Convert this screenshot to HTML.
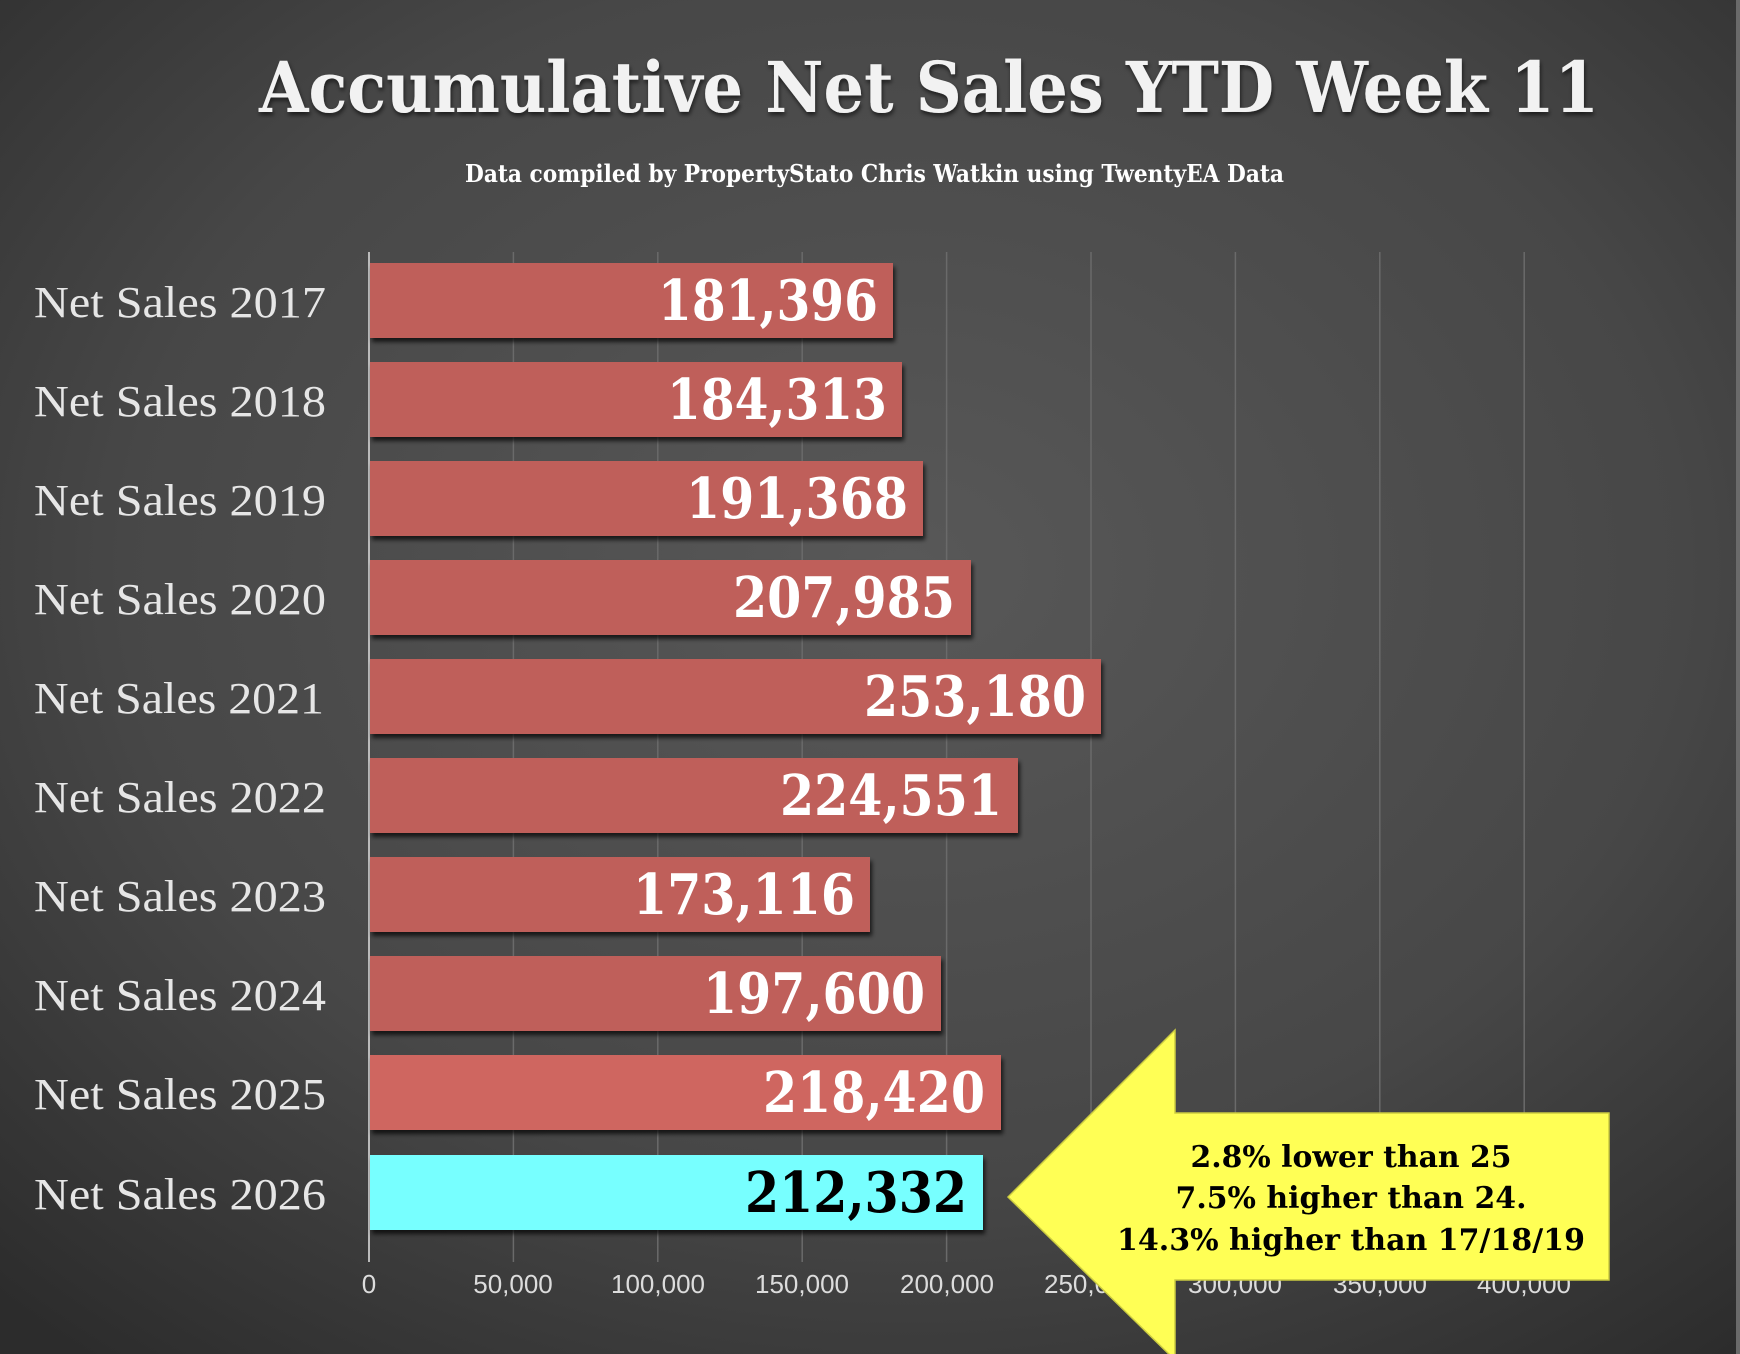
<!DOCTYPE html>
<html><head><meta charset="utf-8"><style>
html,body{margin:0;padding:0;background:#333;}
svg{display:block}
</style></head><body>
<svg width="1740" height="1354" viewBox="0 0 1740 1354" xmlns="http://www.w3.org/2000/svg">
<defs>
<radialGradient id="bg" cx="0.52" cy="0.42" r="0.75">
<stop offset="0" stop-color="#585858"/>
<stop offset="0.6" stop-color="#474747"/>
<stop offset="1" stop-color="#2c2c2c"/>
</radialGradient>
<filter id="sh" x="-5%" y="-10%" width="110%" height="130%">
<feDropShadow dx="2" dy="4" stdDeviation="2" flood-color="#000" flood-opacity="0.7"/>
</filter>
<filter id="tsh" x="-5%" y="-20%" width="110%" height="150%">
<feDropShadow dx="1" dy="3" stdDeviation="2" flood-color="#000" flood-opacity="0.6"/>
</filter>
</defs>
<rect width="1740" height="1354" fill="url(#bg)"/>
<rect x="1736" y="0" width="4" height="1354" fill="#6a6a6a"/>

<text x="259" y="112" font-family="'DejaVu Serif','Liberation Serif',serif" font-weight="bold" font-size="70" fill="#f2f2f2" textLength="1340" lengthAdjust="spacingAndGlyphs" filter="url(#tsh)">Accumulative Net Sales YTD Week 11</text>
<text x="465" y="182" font-family="'DejaVu Serif','Liberation Serif',serif" font-weight="bold" font-size="24" fill="#fff" textLength="819" lengthAdjust="spacingAndGlyphs">Data compiled by PropertyStato Chris Watkin using TwentyEA Data</text>

<g stroke="#6a6a6a" stroke-width="1.5">
<line x1="513.4" y1="252" x2="513.4" y2="1262"/>
<line x1="657.8" y1="252" x2="657.8" y2="1262"/>
<line x1="802.2" y1="252" x2="802.2" y2="1262"/>
<line x1="946.6" y1="252" x2="946.6" y2="1262"/>
<line x1="1091" y1="252" x2="1091" y2="1262"/>
<line x1="1235.4" y1="252" x2="1235.4" y2="1262"/>
<line x1="1379.8" y1="252" x2="1379.8" y2="1262"/>
<line x1="1524.2" y1="252" x2="1524.2" y2="1262"/>
</g>
<line x1="369" y1="252" x2="369" y2="1262" stroke="#bbb" stroke-width="2"/>

<g filter="url(#sh)">
<rect x="370" y="263" width="523" height="75" fill="#bf5f5a"/>
<rect x="370" y="362" width="532" height="75" fill="#bf5f5a"/>
<rect x="370" y="461" width="553" height="75" fill="#bf5f5a"/>
<rect x="370" y="560" width="601" height="75" fill="#bf5f5a"/>
<rect x="370" y="659" width="731" height="75" fill="#bf5f5a"/>
<rect x="370" y="758" width="648" height="75" fill="#bf5f5a"/>
<rect x="370" y="857" width="500" height="75" fill="#bf5f5a"/>
<rect x="370" y="956" width="571" height="75" fill="#bf5f5a"/>
<rect x="370" y="1055" width="631" height="75" fill="#cf6661"/>
<rect x="370" y="1155" width="613" height="75" fill="#77ffff"/>
</g>

<g font-family="'Liberation Serif',serif" font-size="44" fill="#e6e6e6">
<text x="34" y="317" textLength="292" lengthAdjust="spacingAndGlyphs">Net Sales 2017</text>
<text x="34" y="416" textLength="292" lengthAdjust="spacingAndGlyphs">Net Sales 2018</text>
<text x="34" y="515" textLength="292" lengthAdjust="spacingAndGlyphs">Net Sales 2019</text>
<text x="34" y="614" textLength="292" lengthAdjust="spacingAndGlyphs">Net Sales 2020</text>
<text x="34" y="713" textLength="290" lengthAdjust="spacingAndGlyphs">Net Sales 2021</text>
<text x="34" y="812" textLength="292" lengthAdjust="spacingAndGlyphs">Net Sales 2022</text>
<text x="34" y="911" textLength="292" lengthAdjust="spacingAndGlyphs">Net Sales 2023</text>
<text x="34" y="1010" textLength="292" lengthAdjust="spacingAndGlyphs">Net Sales 2024</text>
<text x="34" y="1109" textLength="292" lengthAdjust="spacingAndGlyphs">Net Sales 2025</text>
<text x="34" y="1209" textLength="292" lengthAdjust="spacingAndGlyphs">Net Sales 2026</text>
</g>

<g font-family="'DejaVu Serif','Liberation Serif',serif" font-weight="bold" font-size="56" fill="#fff" text-anchor="end">
<text x="878" y="320" textLength="220" lengthAdjust="spacingAndGlyphs">181,396</text>
<text x="887" y="419" textLength="220" lengthAdjust="spacingAndGlyphs">184,313</text>
<text x="908" y="518" textLength="222" lengthAdjust="spacingAndGlyphs">191,368</text>
<text x="955" y="617" textLength="222" lengthAdjust="spacingAndGlyphs">207,985</text>
<text x="1086" y="716" textLength="222" lengthAdjust="spacingAndGlyphs">253,180</text>
<text x="1002" y="815" textLength="222" lengthAdjust="spacingAndGlyphs">224,551</text>
<text x="855" y="914" textLength="222" lengthAdjust="spacingAndGlyphs">173,116</text>
<text x="925" y="1013" textLength="222" lengthAdjust="spacingAndGlyphs">197,600</text>
<text x="985" y="1112" textLength="222" lengthAdjust="spacingAndGlyphs">218,420</text>
<text x="967" y="1212" textLength="222" lengthAdjust="spacingAndGlyphs" fill="#000">212,332</text>
</g>

<g font-family="'Liberation Sans',sans-serif" font-size="26" fill="#dcdcdc" text-anchor="middle">
<text x="369" y="1293">0</text>
<text x="513" y="1293">50,000</text>
<text x="658" y="1293">100,000</text>
<text x="802" y="1293">150,000</text>
<text x="947" y="1293">200,000</text>
<text x="1091" y="1293">250,000</text>
<text x="1235" y="1293">300,000</text>
<text x="1380" y="1293">350,000</text>
<text x="1524" y="1293">400,000</text>
</g>

<polygon points="1008,1197 1175,1030 1175,1113 1609,1113 1609,1280 1175,1280 1175,1360" fill="#ffff55" stroke="#cccc40" stroke-width="1.5"/>
<g font-family="'DejaVu Serif','Liberation Serif',serif" font-weight="bold" font-size="30" fill="#000" text-anchor="middle">
<text x="1351" y="1167" textLength="321" lengthAdjust="spacingAndGlyphs">2.8% lower than 25</text>
<text x="1351" y="1208" textLength="351" lengthAdjust="spacingAndGlyphs">7.5% higher than 24.</text>
<text x="1351" y="1250" textLength="468" lengthAdjust="spacingAndGlyphs">14.3% higher than 17/18/19</text>
</g>
</svg>
</body></html>
